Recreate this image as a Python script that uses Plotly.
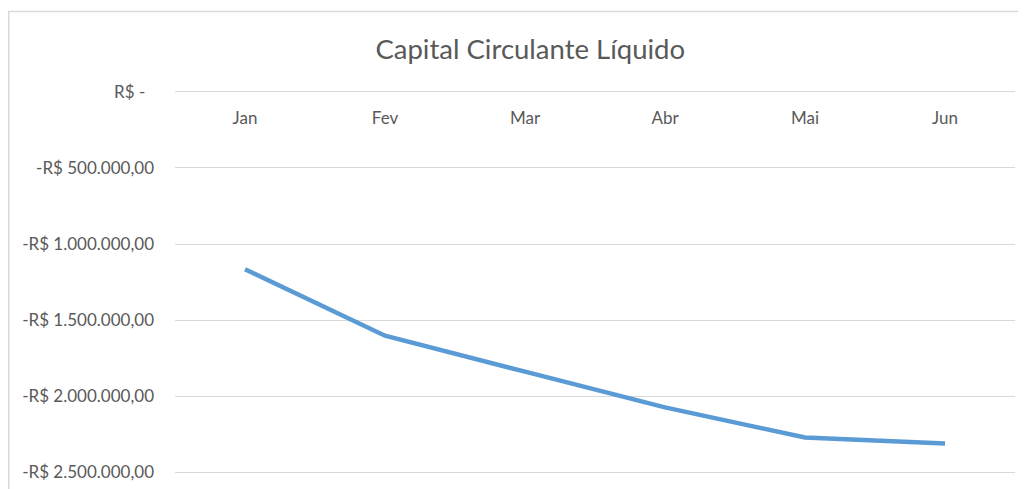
import plotly.graph_objects as go

months = ["Jan", "Fev", "Mar", "Abr", "Mai", "Jun"]
ccl = [-1166000, -1603000, -1840000, -2075000, -2273000, -2312000]
y_tickvals = [0, -500000, -1000000, -1500000, -2000000, -2500000]
y_ticktext = ["R$ -\u00a0\u00a0", "-R$ 500.000,00", "-R$ 1.000.000,00", "-R$ 1.500.000,00",
              "-R$ 2.000.000,00", "-R$ 2.500.000,00"]

FONT = "Lato"
TXT = "#595959"
# page body has an 8px offset; layout below compensates for it
L, T, R, B = 167, 82, 19, 23
PW, PH = 1026 - L - R, 489 - T - B

fig = go.Figure(go.Scatter(x=months, y=ccl, mode="lines",
                           line=dict(color="#5B9BD5", width=4.5), showlegend=False))

fig.update_layout(
    width=1026, height=489,
    margin=dict(l=L, r=R, t=T, b=B, autoexpand=False),
    paper_bgcolor="white", plot_bgcolor="white",
    font=dict(family=FONT, color=TXT, size=17),
    title=dict(text="Capital Circulante Líquido", x=0.509, xanchor="center",
               y=1 - 41 / 489, yanchor="middle", font=dict(size=27.5, color=TXT, family=FONT)),
    xaxis=dict(side="bottom", anchor="free", position=1, showgrid=False, showline=False,
               ticks="", ticklabelstandoff=16, range=[-0.5, 5.5], automargin=False,
               tickfont=dict(size=17, color=TXT)),
    yaxis=dict(range=[-2513000, 13000], tickvals=y_tickvals, ticktext=y_ticktext,
               showgrid=True, gridcolor="#D9D9D9", gridwidth=1, zeroline=False,
               ticks="", ticklabelstandoff=20, automargin=False,
               tickfont=dict(size=17, color=TXT)),
    shapes=[dict(type="rect", xref="paper", yref="paper",
                 x0=(0.75 - L) / PW, x1=1.2, y0=-0.3, y1=(PH + T - 3.5) / PH,
                 line=dict(color="#D9D9D9", width=1.5), layer="above")],
)
fig.write_html("out.html")
